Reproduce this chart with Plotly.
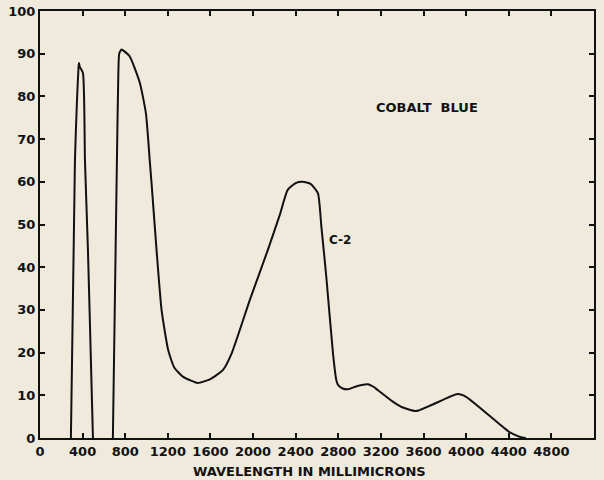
import plotly.graph_objects as go

# Wavelength (millimicrons) and percent values
# (None separates the first band from the second one)
wavelength = [290, 328, 347, 362, 366, 372, 403, 422, 450, 487, 497,
              None,
              684, 722, 735, 744, 766, 790, 844, 938, 994, 1016, 1030,
              1047, 1094, 1141, 1203, 1260, 1344, 1481, 1600, 1716, 1800,
              1969, 2138, 2250, 2325, 2400, 2466, 2540, 2609, 2641, 2672,
              2690, 2750, 2781, 2800, 2840, 2891, 2980, 3078, 3130, 3172,
              3312, 3400, 3531, 3919, 4003, 4406, 4480, 4528, 4560]
percent = [0, 65, 79, 87, 87.8, 87, 85.5, 65, 44, 9.4, 0,
           None,
           0, 65, 85, 90.1, 91.0, 90.6, 89.3, 83.1, 76.1, 69.8, 65,
           59.7, 44, 30, 20.6, 16.5, 14.3, 12.9, 13.8, 15.9, 19.9,
           32.3, 44, 52.2, 58.1, 59.7, 60.0, 59.5, 57.3, 49.5, 41.7,
           37, 19.8, 13.6, 12.3, 11.6, 11.4, 12.2, 12.6, 12.0, 11.2,
           8.5, 7.2, 6.3, 10.3, 9.6, 1.4, 0.5, 0.1, 0]

x_ticks = [0, 400, 800, 1200, 1600, 2000, 2400, 2800, 3200, 3600, 4000, 4400, 4800]
y_ticks = [0, 10, 20, 30, 40, 50, 60, 70, 80, 90, 100]

bg = "#efeadb"
ink = "#111111"
font_family = "DejaVu Sans"

fig = go.Figure()
fig.add_trace(go.Scatter(
    x=wavelength, y=percent, mode="lines", connectgaps=False,
    line=dict(color=ink, width=2, shape="spline", smoothing=0.5),
    showlegend=False, hoverinfo="skip",
))

fig.add_annotation(x=3637, y=77.5, text="COBALT  BLUE", showarrow=False,
                   font=dict(family=font_family, size=13, color=ink, weight="bold"))
fig.add_annotation(x=2812, y=46.4, text="C-2", showarrow=False,
                   font=dict(family=font_family, size=12, color=ink, weight="bold"))
fig.add_annotation(xref="paper", yref="paper", x=0.487, y=0, yshift=-33,
                   xanchor="center", yanchor="middle",
                   text="WAVELENGTH IN MILLIMICRONS", showarrow=False,
                   font=dict(family=font_family, size=13, color=ink, weight="bold"))

axis_common = dict(
    showgrid=False, zeroline=False, automargin=False,
    showline=True, linecolor=ink, linewidth=2, mirror="ticks",
    ticks="inside", ticklen=5, tickwidth=2, tickcolor=ink,
    tickfont=dict(size=13, family=font_family, weight="bold"),
)

fig.update_layout(
    width=604, height=480,
    margin=dict(l=40, r=10, t=11, b=42),
    paper_bgcolor=bg, plot_bgcolor=bg,
    font=dict(family=font_family, size=12, color=ink),
    xaxis=dict(
        range=[0, 5200], tickvals=x_ticks, ticktext=[str(v) for v in x_ticks],
        **axis_common,
    ),
    yaxis=dict(
        range=[0, 100], tickvals=y_ticks, ticktext=[str(v) for v in y_ticks],
        **axis_common,
    ),
)

fig.write_html(
    "out.html",
    config={"displayModeBar": False},
    post_script="document.body.style.margin='0px';document.body.style.background='%s';" % bg,
)
